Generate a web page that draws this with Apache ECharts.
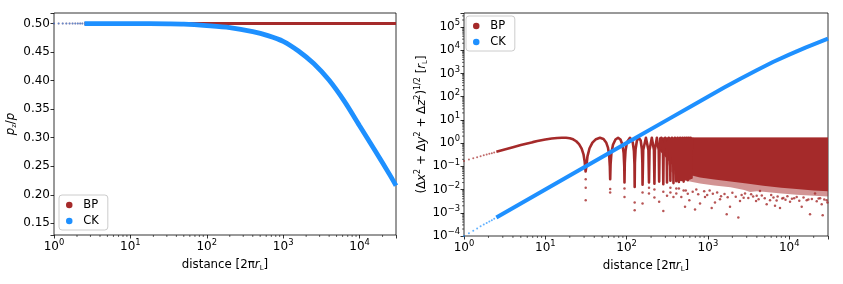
<!DOCTYPE html>
<html><head><meta charset="utf-8">
<script src="https://cdn.jsdelivr.net/npm/echarts@6/dist/echarts.min.js"></script>
<style>html,body{margin:0;padding:0;background:#fff}#c{width:843px;height:284px}</style>
</head><body><div id="c"></div><script>
// ---------- data ----------
// Left panel: p_z/p vs distance
const bpLeftX = [2.5, 30000];
const bpLeftY = [0.5, 0.5];
const bpLeftDotX = [1, 1.15, 1.3, 1.45, 1.6, 1.75, 1.9, 2.05, 2.2, 2.35];
const bpLeftDotY = [0.5, 0.5, 0.5, 0.5, 0.5, 0.5, 0.5, 0.5, 0.5, 0.5];
const ckLeftX = [2.5, 10, 31.6, 50, 100, 200, 400, 631, 1000, 1585, 2512, 3981, 6310, 10000, 15849, 25119, 30000];
const ckLeftY = [0.5, 0.5, 0.4995, 0.499, 0.4965, 0.493, 0.486, 0.479, 0.469, 0.452, 0.430, 0.401, 0.364, 0.321, 0.278, 0.234, 0.216];
const ckLeftDotX = [1, 1.15, 1.3, 1.45, 1.6, 1.75, 1.9, 2.05, 2.2, 2.35];
const ckLeftDotY = [0.5, 0.5, 0.5, 0.5, 0.5, 0.5, 0.5, 0.5, 0.5, 0.5];

// Right panel: displacement vs distance
const bpArchX = [2.5, 3, 4, 5, 6, 7, 8, 10, 12, 14, 16, 18, 20, 22, 24, 26, 28, 29.5, 30.5, 31.3,
  32, 33, 35, 38, 42, 47, 52, 56, 59, 61, 62.2, 62.8,
  63.5, 65, 68, 73, 78.5, 84, 89, 92, 93.6, 94.2,
  95, 97, 101, 110, 119, 123, 125, 125.7,
  126.5, 129, 134, 141.4, 149, 154, 156.3, 157.1,
  160.1, 172.8, 185.5, 188.5,
  191.5, 204.2, 216.9, 219.9,
  222.9, 235.6, 248.3, 251.3,
  254.3, 267, 279.7, 282.7,
  285.7, 298.4, 311.2, 314.2,
  317.2, 329.9, 342.6, 345.6,
  348.6, 361.3, 374, 377,
  380, 392.7, 405.4, 408.4,
  411.4, 424.1, 436.8, 439.8,
  442.8, 455.5, 468.2, 471.2,
  474.2, 487, 499.7, 502.7,
  505.7, 518.4, 531.1, 534.1,
  537.1, 549.8, 562.5, 565.5,
  568.5, 581.2, 593.9, 596.9,
  599.9, 612.6, 625.3, 628.3,
  631.3, 644];
const bpArchY = [0.42, 0.5, 0.66, 0.82, 0.96, 1.1, 1.22, 1.43, 1.58, 1.67, 1.7, 1.69, 1.62, 1.45, 1.2, 0.9, 0.58, 0.33, 0.16, 0.06,
  0.1, 0.27, 0.6, 1.05, 1.48, 1.7, 1.51, 1.07, 0.64, 0.31, 0.1, 0.028,
  0.12, 0.37, 0.85, 1.43, 1.7, 1.43, 0.85, 0.37, 0.1, 0.02,
  0.14, 0.47, 1.08, 1.7, 1.08, 0.47, 0.12, 0.013,
  0.14, 0.56, 1.3, 1.7, 1.3, 0.56, 0.14, 0.016,
  0.5, 1.7, 0.5, 0.02,
  0.5, 1.7, 0.5, 0.018,
  0.5, 1.7, 0.5, 0.022,
  0.5, 1.7, 0.5, 0.017,
  0.5, 1.7, 0.5, 0.02,
  0.5, 1.7, 0.5, 0.024,
  0.5, 1.7, 0.5, 0.019,
  0.5, 1.7, 0.5, 0.023,
  0.5, 1.7, 0.5, 0.021,
  0.5, 1.7, 0.5, 0.026,
  0.5, 1.7, 0.5, 0.022,
  0.5, 1.7, 0.5, 0.028,
  0.5, 1.7, 0.5, 0.025,
  0.5, 1.7, 0.5, 0.03,
  0.5, 1.7, 0.5, 0.032,
  0.5, 1.7];
const bpStartDotX = [1, 1.15, 1.3, 1.45, 1.6, 1.75, 1.9, 2.05, 2.2, 2.35];
const bpStartDotY = [0.17, 0.195, 0.22, 0.245, 0.27, 0.3, 0.32, 0.345, 0.37, 0.395];
const bandTopX = [250, 30000];
const bandTopY = [1.75, 1.75];
const bandSolidLowX = [250, 300, 350, 450, 600, 800, 1200, 1900, 3000, 4800, 8000, 12300, 20000, 30000];
const bandSolidLowY = [0.5, 0.25, 0.13, 0.065, 0.042, 0.033, 0.027, 0.022, 0.018, 0.0145, 0.012, 0.0105, 0.0092, 0.0085];
const bandFaintLowX = [350, 450, 600, 800, 1200, 1900, 2800, 3300, 4000, 4800, 8000, 12300, 20000, 30000];
const bandFaintLowY = [0.06, 0.03, 0.022, 0.018, 0.015, 0.0126, 0.0095, 0.0078, 0.0085, 0.008, 0.0068, 0.006, 0.0054, 0.005];
const bpDotX = [31.4, 31.4, 31.4, 62.8, 62.8, 94.2, 94.2, 125.7, 125.7, 157.1, 157.1, 188.5, 219.9, 251.3, 282.7, 314.2, 377, 408.4, 471.2, 523, 591, 694, 800, 921, 1113, 1222, 1409, 1703, 1870, 2366, 2483, 2860, 3141, 3908, 3980, 4375, 5284, 5808, 6686, 7709, 8474, 10233, 12357, 14248, 16400, 18030, 20760, 25100, 25800, 28900,
  345.6, 439.8, 502.7, 650, 720, 900, 1050, 1300, 1600, 2000, 2600, 3400, 4600, 6000, 7200, 9500, 11500, 15000, 19000, 23000, 27000,
  188.5, 219.9, 282.7, 345.6, 408.4, 534.1, 565.5, 760, 980, 1150, 1450, 1750, 2200, 2750, 3600, 4200, 5000, 6400, 7000, 8200, 9000, 10800, 13300, 17200, 21800, 24000, 29500];
const bpDotY = [0.028, 0.012, 0.0035, 0.0105, 0.0074, 0.011, 0.0048, 0.0028, 0.0013, 0.0074, 0.0025, 0.0068, 0.0045, 0.003, 0.0012, 0.0054, 0.0048, 0.0068, 0.0048, 0.0018, 0.0035, 0.0014, 0.0025, 0.0048, 0.0016, 0.00275, 0.0038, 0.00087, 0.0018, 0.00062, 0.0032, 0.0068, 0.0043, 0.0032, 0.0054, 0.0087, 0.0023, 0.0035, 0.002, 0.0016, 0.0043, 0.003, 0.0048, 0.0018, 0.0035, 0.00087, 0.0068, 0.0023, 0.00078, 0.0035,
  0.012, 0.011, 0.009, 0.008, 0.01, 0.0085, 0.009, 0.0075, 0.0065, 0.0072, 0.0058, 0.0062, 0.0055, 0.0058, 0.005, 0.0052, 0.0042, 0.0046, 0.0039, 0.0041, 0.0037,
  0.012, 0.01, 0.008, 0.0075, 0.011, 0.009, 0.0066, 0.0062, 0.0058, 0.0066, 0.0052, 0.0047, 0.0049, 0.0044, 0.005, 0.0038, 0.0042, 0.0046, 0.0034, 0.0041, 0.0036, 0.004, 0.0033, 0.0037, 0.0031, 0.0042, 0.0028];
const ckRightX = [2.5, 10, 100, 316, 631, 1000, 1585, 2512, 3981, 6310, 10000, 15849, 25119, 30000];
const ckRightY = [6.3e-4, 1e-2, 1.0, 10, 40, 100, 245, 589, 1380, 3090, 6460, 12900, 24500, 31300];
const ckStartDotX = [1, 1.15, 1.3, 1.45, 1.6, 1.75, 1.9, 2.05, 2.2, 2.35];
const ckStartDotY = [1.0e-4, 1.3e-4, 1.7e-4, 2.1e-4, 2.6e-4, 3.1e-4, 3.6e-4, 4.2e-4, 4.8e-4, 5.5e-4];

// axis ranges / ticks
const xMin = 1, xMax = 30000;
const leftYMin = 0.1295, leftYMax = 0.5186;
const rightYMin = 1e-4, rightYMax = 4e5;
const minorMult = [2, 3, 4, 5, 6, 7, 8, 9];
const decadesX = [1, 10, 100, 1000, 10000];
const decadesY = [1e-4, 1e-3, 1e-2, 1e-1, 1, 10, 100, 1000, 1e4, 1e5];

const FONT = 'DejaVu Sans';
const BROWN = '#a52a2a', BLUE = '#1e90ff';
const TICKFS = 12, EXPFS = 8.4, NAMEFS = 11.8;

function minorVals(decs, lo, hi) {
  const out = [];
  decs.forEach(d => minorMult.forEach(k => { const v = k * d; if (v > lo && v < hi) out.push(v); }));
  return out;
}
const minorX = minorVals(decadesX, xMin, xMax);
const minorY = minorVals(decadesY, rightYMin, rightYMax);

const zip = (a, b) => a.map((v, i) => [v, b[i]]);

const richPow = {
  b: { fontSize: TICKFS, fontFamily: FONT, color: '#000' },
  e: { fontSize: EXPFS, fontFamily: FONT, color: '#000', padding: [0, 0, 8, 0] }
};
function powLabel(v) {
  const n = Math.log10(v), r = Math.round(n);
  if (Math.abs(n - r) > 1e-6) return '';
  return '{b|10}{e|' + (r < 0 ? '\u2212' + (-r) : r) + '}';
}
function linLabel(v) {
  const q = v / 0.05;
  if (Math.abs(q - Math.round(q)) > 1e-6) return '';
  return v.toFixed(2);
}
const tick = { show: true, length: 3.5, lineStyle: { color: '#000', width: 0.8 } };
const nameRich = {
  a: { fontSize: NAMEFS, fontFamily: FONT, color: '#000' },
  i: { fontSize: NAMEFS, fontFamily: FONT, fontStyle: 'italic', color: '#000' },
  s: { fontSize: 7, fontFamily: FONT, color: '#000', padding: [7, 0, 0, 0] },
  e: { fontSize: 8, fontFamily: FONT, color: '#000', padding: [0, 0, 8, 0] }
};

function minorXSeries(xi, yi, yBase) {
  return {
    type: 'custom', xAxisIndex: xi, yAxisIndex: yi, silent: true, clip: false, z: 5,
    data: [[xMin * 2, yBase]],
    renderItem: (p, api) => ({
      type: 'group',
      children: minorX.map(v => {
        const c = api.coord([v, yBase]);
        return { type: 'line', shape: { x1: c[0], y1: c[1], x2: c[0], y2: c[1] + 2 }, style: { stroke: '#000', lineWidth: 0.6 } };
      })
    })
  };
}
function minorYSeries(xi, yi) {
  return {
    type: 'custom', xAxisIndex: xi, yAxisIndex: yi, silent: true, clip: false, z: 5,
    data: [[xMin, 1]],
    renderItem: (p, api) => ({
      type: 'group',
      children: minorY.map(v => {
        const c = api.coord([xMin, v]);
        return { type: 'line', shape: { x1: c[0], y1: c[1], x2: c[0] - 2, y2: c[1] }, style: { stroke: '#000', lineWidth: 0.6 } };
      })
    })
  };
}
function bandSeries(topX, topY, lowX, lowY, opacity, z) {
  return {
    type: 'custom', xAxisIndex: 1, yAxisIndex: 1, silent: true, z: z,
    data: [[1000, 1]],
    renderItem: (p, api) => {
      const pts = [];
      zip(topX, topY).forEach(q => pts.push(api.coord(q)));
      for (let i = lowX.length - 1; i >= 0; i--) pts.push(api.coord([lowX[i], lowY[i]]));
      return { type: 'polygon', shape: { points: pts }, style: { fill: BROWN, opacity: opacity } };
    }
  };
}
const legendBase = {
  orient: 'vertical', data: ['BP', 'CK'], icon: 'circle', itemWidth: 18, itemHeight: 6.5, itemGap: 4, selectedMode: false,
  padding: [4, 9, 3, 7], borderColor: '#ccc', borderWidth: 1, borderRadius: 3, backgroundColor: 'rgba(255,255,255,0.8)',
  itemStyle: { opacity: 1 },
  textStyle: { fontSize: 11.5, fontFamily: FONT, color: '#000', lineHeight: 12 }
};

const option = {
  animation: false,
  backgroundColor: '#fff',
  textStyle: { fontFamily: FONT },
  grid: [
    { left: 54, top: 13, width: 342, height: 222, show: true, borderColor: '#000', borderWidth: 0.8, backgroundColor: 'transparent' },
    { left: 464, top: 13, width: 364, height: 223, show: true, borderColor: '#000', borderWidth: 0.8, backgroundColor: 'transparent' }
  ],
  xAxis: [
    { type: 'log', gridIndex: 0, min: xMin, max: xMax, axisLine: { show: false }, axisTick: tick, splitLine: { show: false },
      axisLabel: { formatter: powLabel, rich: richPow, margin: 4 },
      name: '{a|distance [2\u03c0}{i|r}{s|L}{a|]}', nameLocation: 'middle', nameGap: 23, nameTextStyle: { rich: nameRich } },
    { type: 'log', gridIndex: 1, min: xMin, max: xMax, axisLine: { show: false }, axisTick: tick, splitLine: { show: false },
      axisLabel: { formatter: powLabel, rich: richPow, margin: 4 },
      name: '{a|distance [2\u03c0}{i|r}{s|L}{a|]}', nameLocation: 'middle', nameGap: 23, nameTextStyle: { rich: nameRich } }
  ],
  yAxis: [
    { type: 'value', gridIndex: 0, min: leftYMin, max: leftYMax, splitNumber: 8, axisLine: { show: false }, axisTick: tick, splitLine: { show: false },
      axisLabel: { formatter: linLabel, fontSize: TICKFS, color: '#000', fontFamily: FONT, margin: 4 },
      name: '{i|p}{s|z}{a|/}{i|p}', nameLocation: 'middle', nameGap: 36, nameTextStyle: { rich: nameRich } },
    { type: 'log', gridIndex: 1, min: rightYMin, max: rightYMax, axisLine: { show: false }, axisTick: tick, splitLine: { show: false },
      axisLabel: { formatter: powLabel, rich: richPow, margin: 4 },
      name: '{a|(\u0394}{i|x}{e|2}{a| + \u0394}{i|y}{e|2}{a| + \u0394}{i|z}{e|2}{a|)}{e|1/2}{a| [}{i|r}{s|L}{a|]}', nameLocation: 'middle', nameGap: 32, nameTextStyle: { rich: nameRich } }
  ],
  legend: [
    Object.assign({ left: 59, top: 195 }, legendBase),
    Object.assign({ left: 466, top: 16 }, legendBase)
  ],
  series: [
    // ---- left panel ----
    { name: 'BP', type: 'line', xAxisIndex: 0, yAxisIndex: 0, data: zip(bpLeftX, bpLeftY), showSymbol: false, color: BROWN, lineStyle: { color: BROWN, width: 3 }, z: 2 },
    { name: 'CK', type: 'line', xAxisIndex: 0, yAxisIndex: 0, data: zip(ckLeftX, ckLeftY), showSymbol: false, smooth: 0.3, color: BLUE, lineStyle: { color: BLUE, width: 4.8 }, z: 3 },
    { name: 'BP', type: 'scatter', xAxisIndex: 0, yAxisIndex: 0, data: zip(bpLeftDotX, bpLeftDotY), symbolSize: 2, itemStyle: { color: BROWN, opacity: 0.6 }, z: 2 },
    { name: 'CK', type: 'scatter', xAxisIndex: 0, yAxisIndex: 0, data: zip(ckLeftDotX, ckLeftDotY), symbolSize: 2, itemStyle: { color: BLUE, opacity: 0.6 }, z: 3 },
    minorXSeries(0, 0, leftYMin),
    // ---- right panel ----
    { name: 'BP', type: 'scatter', xAxisIndex: 1, yAxisIndex: 1, data: zip(bpStartDotX, bpStartDotY), symbolSize: 2, itemStyle: { color: BROWN, opacity: 0.7 }, z: 2 },
    bandSeries(bandTopX, bandTopY, bandFaintLowX, bandFaintLowY, 0.5, 1),
    bandSeries(bandTopX, bandTopY, bandSolidLowX, bandSolidLowY, 1, 2),
    { name: 'BP', type: 'scatter', xAxisIndex: 1, yAxisIndex: 1, data: zip(bpDotX, bpDotY), symbolSize: 2.5, itemStyle: { color: BROWN, opacity: 0.8 }, z: 2 },
    { name: 'BP', type: 'line', xAxisIndex: 1, yAxisIndex: 1, data: zip(bpArchX, bpArchY), showSymbol: false, color: BROWN, lineStyle: { color: BROWN, width: 2.6, join: 'round' }, z: 2 },
    { name: 'CK', type: 'scatter', xAxisIndex: 1, yAxisIndex: 1, data: zip(ckStartDotX, ckStartDotY), symbolSize: 2, itemStyle: { color: BLUE, opacity: 0.7 }, z: 3 },
    { name: 'CK', type: 'line', xAxisIndex: 1, yAxisIndex: 1, data: zip(ckRightX, ckRightY), showSymbol: false, smooth: false, color: BLUE, lineStyle: { color: BLUE, width: 4, join: 'round' }, z: 3 },
    minorXSeries(1, 1, rightYMin),
    minorYSeries(1, 1)
  ]
};
const chart = echarts.init(document.getElementById('c'), null, { renderer: 'canvas' });
chart.setOption(option);
</script></body></html>
